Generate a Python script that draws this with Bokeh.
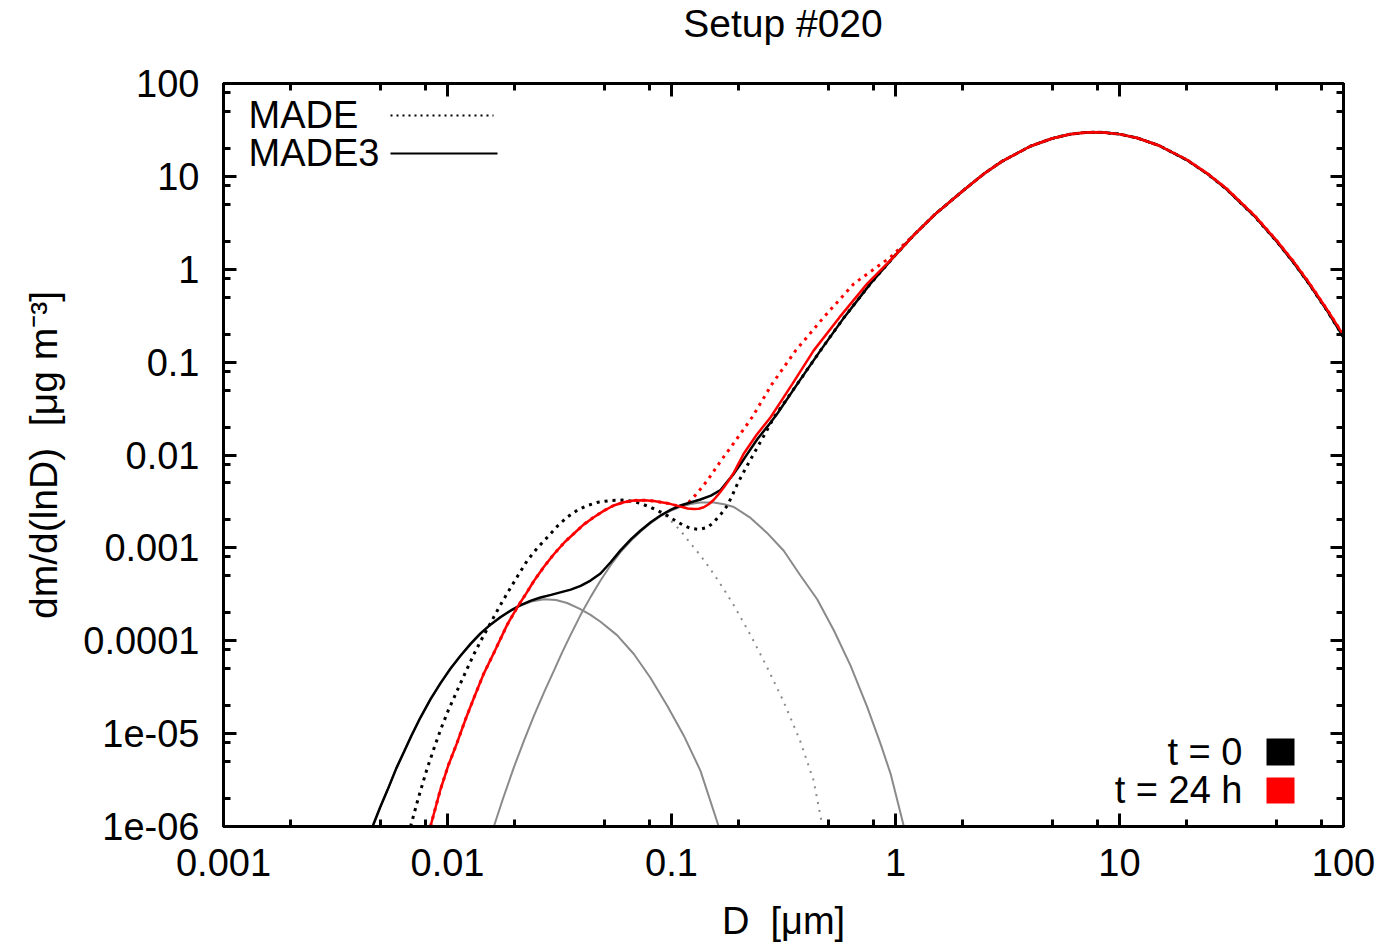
import numpy as np
from bokeh.plotting import figure
from bokeh.layouts import column
from bokeh.models import Range1d, FixedTicker, LogAxis, Label, Div
from bokeh.embed import file_html
from bokeh.resources import INLINE

# ---------------- data ----------------
# shared coarse-mode part (all four totals coincide here)
COARSE_X = [1.5, 2.0, 2.5, 3.0, 4.0, 5.0, 6.0, 7.0, 7.8, 8.5, 10.0, 12.0, 15.0, 20.0, 25.0,
            30.0, 40.0, 50.0, 60.0, 70.0, 85.0, 100.0]
COARSE_Y_T0 = [3.9, 7.0, 10.8, 14.6, 21.1, 25.6, 28.4, 29.6, 29.9, 29.7, 28.5, 25.9, 21.5, 15.0, 10.4,
               7.3, 3.74, 2.03, 1.17, 0.70, 0.35, 0.185]
COARSE_Y_T24 = [3.9, 7.0, 10.8, 14.6, 21.1, 25.6, 28.4, 29.6, 29.9, 29.7, 28.5, 25.9, 21.5, 15.1, 10.5,
                7.4, 3.80, 2.07, 1.20, 0.72, 0.36, 0.195]

# MADE3, t = 0 (black solid)
M3_T0_X = [0.00463, 0.0050, 0.00539, 0.0059, 0.00638, 0.0069, 0.00756, 0.0084, 0.00931, 0.0103,
           0.01143, 0.0127, 0.01403, 0.0156, 0.01726, 0.0192, 0.0212, 0.0236, 0.026, 0.029,
           0.0319, 0.0355, 0.0393, 0.0435, 0.0482, 0.0535, 0.0592, 0.066, 0.0728, 0.081,
           0.0893, 0.099, 0.1096, 0.1215, 0.1346, 0.15, 0.1656, 0.178, 0.190, 0.202, 0.214,
           0.2415, 0.27, 0.297, 0.366, 0.462, 0.591, 0.773, 0.98, 1.21]
M3_T0_Y = [1.0e-6, 1.6e-6, 2.45e-6, 4.2e-6, 6.3e-6, 9.5e-6, 1.48e-5, 2.35e-5, 3.5e-5, 5.0e-5,
           6.9e-5, 9.3e-5, 1.2e-4, 1.5e-4, 1.8e-4, 2.12e-4, 2.42e-4, 2.7e-4, 2.92e-4, 3.12e-4,
           3.32e-4, 3.55e-4, 3.9e-4, 4.45e-4, 5.3e-4, 7.0e-4, 9.4e-4, 1.24e-3, 1.54e-3, 1.9e-3,
           2.23e-3, 2.56e-3, 2.86e-3, 3.08e-3, 3.32e-3, 3.65e-3, 4.2e-3, 5.2e-3, 6.3e-3, 7.8e-3, 9.6e-3,
           0.0148, 0.0207, 0.028, 0.059, 0.133, 0.305, 0.70, 1.35, 2.35]

# MADE3, t = 24 h (red solid)
M3_T24_X = [0.00839, 0.0093, 0.0101, 0.0110, 0.0120, 0.0131, 0.0145, 0.0162, 0.0185, 0.0205,
            0.0224, 0.0243, 0.027, 0.0299, 0.0333, 0.0366, 0.0405, 0.045, 0.05, 0.0552,
            0.0612, 0.0679, 0.0755, 0.0834, 0.0957, 0.1096, 0.118, 0.126, 0.1325, 0.1393,
            0.1465, 0.1545, 0.1625, 0.1714, 0.18, 0.19, 0.21, 0.24, 0.277, 0.346, 0.431,
            0.563, 0.748, 0.98, 1.21]
M3_T24_Y = [1.0e-6, 2.5e-6, 4.6e-6, 7.8e-6, 1.4e-5, 2.4e-5, 4.4e-5, 7.6e-5, 1.5e-4, 2.3e-4,
            3.2e-4, 4.4e-4, 6.3e-4, 8.6e-4, 1.15e-3, 1.42e-3, 1.78e-3, 2.14e-3, 2.52e-3, 2.86e-3,
            3.1e-3, 3.24e-3, 3.26e-3, 3.2e-3, 3.03e-3, 2.78e-3, 2.66e-3, 2.62e-3, 2.64e-3, 2.74e-3,
            2.95e-3, 3.3e-3, 3.8e-3, 4.5e-3, 5.3e-3, 6.5e-3, 0.0103, 0.0165, 0.0255, 0.058, 0.133,
            0.305, 0.70, 1.35, 2.35]

# MADE, t = 0 (black dotted)
MADE_T0_X = [0.00684, 0.0074, 0.00811, 0.0087, 0.00931, 0.0101, 0.01104, 0.0121, 0.01313, 0.0143,
             0.01556, 0.0171, 0.0187, 0.0206, 0.0227, 0.0252, 0.0279, 0.031, 0.0342, 0.038,
             0.0421, 0.047, 0.0535, 0.06, 0.0656, 0.073, 0.0805, 0.088, 0.0957, 0.104, 0.1135,
             0.122, 0.133, 0.145, 0.1545, 0.166, 0.1776, 0.187, 0.197, 0.215, 0.235, 0.26, 0.287,
             0.366, 0.462, 0.591, 0.773, 0.98, 1.21]
MADE_T0_Y = [1.0e-6, 2.0e-6, 4.2e-6, 6.9e-6, 1.1e-5, 1.8e-5, 2.9e-5, 4.7e-5, 7.2e-5, 1.07e-4,
             1.55e-4, 2.35e-4, 3.4e-4, 5.0e-4, 7.3e-4, 1.0e-3, 1.3e-3, 1.72e-3, 2.14e-3, 2.55e-3,
             2.86e-3, 3.1e-3, 3.24e-3, 3.27e-3, 3.2e-3, 3.0e-3, 2.74e-3, 2.48e-3, 2.23e-3, 1.96e-3, 1.74e-3,
             1.62e-3, 1.58e-3, 1.66e-3, 1.89e-3, 2.3e-3, 2.86e-3, 3.7e-3, 4.9e-3, 7.3e-3, 0.0107, 0.0165, 0.0255,
             0.059, 0.133, 0.305, 0.70, 1.35, 2.35]

# MADE, t = 24 h (red dotted)
MADE_T24_X = [0.00839, 0.0093, 0.0101, 0.0110, 0.0120, 0.0131, 0.0145, 0.0162, 0.0185, 0.0205,
              0.0224, 0.0243, 0.027, 0.0299, 0.0333, 0.0366, 0.0405, 0.045, 0.05, 0.0552,
              0.0612, 0.0679, 0.0755, 0.0834, 0.0957, 0.1096, 0.1175, 0.128, 0.137, 0.146, 0.157,
              0.168, 0.19, 0.229, 0.281, 0.358, 0.479, 0.652, 0.95, 1.21]
MADE_T24_Y = [1.0e-6, 2.5e-6, 4.6e-6, 7.8e-6, 1.4e-5, 2.4e-5, 4.4e-5, 7.6e-5, 1.5e-4, 2.3e-4,
              3.2e-4, 4.4e-4, 6.3e-4, 8.6e-4, 1.15e-3, 1.42e-3, 1.78e-3, 2.14e-3, 2.52e-3, 2.86e-3,
              3.1e-3, 3.24e-3, 3.26e-3, 3.2e-3, 3.03e-3, 2.78e-3, 2.98e-3, 3.7e-3, 4.5e-3, 5.5e-3, 7.1e-3,
              9.0e-3, 0.0135, 0.0255, 0.058, 0.133, 0.305, 0.70, 1.35, 2.35]

# single modes, t = 0 (grey)
MODE_AIT_X = [0.00463, 0.0050, 0.00539, 0.0059, 0.00638, 0.0069, 0.00756, 0.0084, 0.00931, 0.0103,
              0.01143, 0.0127, 0.01403, 0.0156, 0.01726, 0.0192, 0.0212, 0.0237, 0.027, 0.0305,
              0.0342, 0.039, 0.0435, 0.0482, 0.0571, 0.0679, 0.0805, 0.0957, 0.1135, 0.1346, 0.1625]
MODE_AIT_Y = [1.0e-6, 1.6e-6, 2.45e-6, 4.2e-6, 6.3e-6, 9.5e-6, 1.48e-5, 2.35e-5, 3.5e-5, 5.0e-5,
              6.9e-5, 9.2e-5, 1.18e-4, 1.5e-4, 1.78e-4, 2.12e-4, 2.4e-4, 2.65e-4, 2.8e-4, 2.75e-4,
              2.55e-4, 2.2e-4, 1.9e-4, 1.6e-4, 1.15e-4, 7.2e-5, 4.0e-5, 2.0e-5, 9.5e-6, 4.0e-6, 1.0e-6]

MODE_ACC_X = [0.0161, 0.0177, 0.0198, 0.022, 0.0243, 0.027, 0.0299, 0.0325, 0.0354, 0.0393,
              0.0435, 0.0482, 0.0535, 0.0592, 0.066, 0.0728, 0.081, 0.0893, 0.099, 0.1096,
              0.1215, 0.1346, 0.1545, 0.1714, 0.190, 0.2254, 0.267, 0.317, 0.375, 0.447, 0.531,
              0.63, 0.748, 0.857, 0.951, 1.09]
MODE_ACC_Y = [1.0e-6, 2.0e-6, 4.36e-6, 8.5e-6, 1.55e-5, 2.8e-5, 4.8e-5, 7.5e-5, 1.15e-4, 1.9e-4,
              2.95e-4, 4.46e-4, 6.5e-4, 9.0e-4, 1.2e-3, 1.5e-3, 1.86e-3, 2.2e-3, 2.5e-3, 2.76e-3,
              2.97e-3, 3.08e-3, 3.08e-3, 2.95e-3, 2.75e-3, 2.1e-3, 1.45e-3, 9.3e-4, 5.1e-4, 2.8e-4, 1.29e-4,
              5.4e-5, 1.93e-5, 7.8e-6, 3.69e-6, 1.0e-6]

MODE_MADE_X = [0.00684, 0.0074, 0.00811, 0.0087, 0.00931, 0.0101, 0.01104, 0.0121, 0.01313, 0.0143,
               0.01556, 0.0171, 0.0187, 0.0206, 0.0227, 0.0252, 0.0279, 0.031, 0.0342, 0.038,
               0.0421, 0.047, 0.0535, 0.06, 0.0656, 0.073, 0.0805, 0.088, 0.0957, 0.1096, 0.1215,
               0.1346, 0.147, 0.160, 0.175, 0.190, 0.2254, 0.267, 0.317, 0.375, 0.431, 0.472]
MODE_MADE_Y = [1.0e-6, 2.0e-6, 4.2e-6, 6.9e-6, 1.1e-5, 1.8e-5, 2.9e-5, 4.7e-5, 7.2e-5, 1.07e-4,
               1.55e-4, 2.35e-4, 3.4e-4, 5.0e-4, 7.3e-4, 1.0e-3, 1.3e-3, 1.72e-3, 2.14e-3, 2.55e-3,
               2.86e-3, 3.1e-3, 3.24e-3, 3.27e-3, 3.2e-3, 3.0e-3, 2.7e-3, 2.42e-3, 2.14e-3, 1.54e-3, 1.12e-3,
               8.3e-4, 6.2e-4, 4.6e-4, 3.3e-4, 2.4e-4, 1.15e-4, 5.2e-5, 2.2e-5, 8.4e-6, 3.13e-6, 1.0e-6]

X_TICKS = [1e-3, 1e-2, 1e-1, 1.0, 10.0, 100.0]
X_TICK_LABELS = ["0.001", "0.01", "0.1", "1", "10", "100"]
Y_TICKS = [1e-6, 1e-5, 1e-4, 1e-3, 1e-2, 1e-1, 1.0, 10.0, 100.0]
Y_TICK_LABELS = ["1e-06", "1e-05", "0.0001", "0.001", "0.01", "0.1", "1", "10", "100"]
MINOR_MULT = [2, 5, 8]

TITLE = "Setup #020"
X_LABEL = "D\u00a0 [\u03bcm]"
Y_LABEL = "dm/d(lnD)\u00a0 [\u03bcg m\u207b\u00b3]"
LEGEND_MODEL = ["MADE", "MADE3"]
LEGEND_TIME = ["t = 0", "t = 24 h"]

# ---------------- figure ----------------
FONT = "Liberation Sans"
TITLE_H = 47
L, R, T, B = 223, 46, 83 - TITLE_H, 118
FW, FH = 1120, 743

p = figure(x_axis_type="log", y_axis_type="log",
           x_range=Range1d(1e-3, 100), y_range=Range1d(1e-6, 100),
           frame_width=FW, frame_height=FH,
           min_border_left=L, min_border_right=R, min_border_top=T, min_border_bottom=B,
           output_backend="svg", toolbar_location=None)
p.xgrid.visible = False
p.ygrid.visible = False
p.outline_line_color = "black"
p.outline_line_width = 3
p.background_fill_color = "white"
p.border_fill_color = "white"

title_div = Div(text=TITLE, width=FW, height=TITLE_H, margin=(0, 0, 0, L),
                styles={"font-family": FONT, "font-size": "39px", "line-height": "%dpx" % TITLE_H,
                        "text-align": "center", "color": "black", "width": "%dpx" % FW})


def minor_list(ticks):
    out = []
    for t in ticks[:-1]:
        out += [t * m for m in MINOR_MULT]
    return out


def style(ax, ticks, labels, show):
    ax.ticker = FixedTicker(ticks=ticks, minor_ticks=minor_list(ticks))
    ax.axis_line_color = "black"
    ax.axis_line_width = 3
    ax.major_tick_in = 13
    ax.major_tick_out = 0
    ax.minor_tick_in = 7
    ax.minor_tick_out = 0
    ax.major_tick_line_width = 3
    ax.minor_tick_line_width = 3
    ax.major_tick_line_color = "black"
    ax.minor_tick_line_color = "black"
    ax.major_label_overrides = {t: s for t, s in zip(ticks, labels)}
    if show:
        ax.major_label_text_font = FONT
        ax.major_label_text_font_size = "38px"
        ax.major_label_text_color = "black"
        ax.axis_label_text_font = FONT
        ax.axis_label_text_font_style = "normal"
        ax.axis_label_text_color = "black"
    else:
        ax.major_label_text_font_size = "1px"
        ax.major_label_text_alpha = 0.0
        ax.major_label_standoff = 0


xa = p.xaxis[0]
ya = p.yaxis[0]
style(xa, X_TICKS, X_TICK_LABELS, True)
style(ya, Y_TICKS, Y_TICK_LABELS, True)
xa.major_label_standoff = 22
ya.major_label_standoff = 24
xa.axis_label = X_LABEL
xa.axis_label_text_font_size = "38px"
xa.axis_label_standoff = 21
ya.axis_label = Y_LABEL
ya.axis_label_text_font_size = "39px"
ya.axis_label_standoff = 15

top_ax = LogAxis()
right_ax = LogAxis()
style(top_ax, X_TICKS, X_TICK_LABELS, False)
style(right_ax, Y_TICKS, Y_TICK_LABELS, False)
p.add_layout(top_ax, "above")
p.add_layout(right_ax, "right")

GREY = "#8a8a8a"
# single modes
p.line(MODE_AIT_X, MODE_AIT_Y, line_color=GREY, line_width=2)
p.line(MODE_ACC_X, MODE_ACC_Y, line_color=GREY, line_width=2)
p.line(MODE_MADE_X, MODE_MADE_Y, line_color=GREY, line_width=2, line_dash="2 6")
# totals
p.line(MADE_T0_X + COARSE_X, MADE_T0_Y + COARSE_Y_T0, line_color="black", line_width=3, line_dash="3 5")
p.line(MADE_T24_X + COARSE_X, MADE_T24_Y + COARSE_Y_T24, line_color="red", line_width=3, line_dash="3 5")
p.line(M3_T0_X + COARSE_X, M3_T0_Y + COARSE_Y_T0, line_color="black", line_width=2.5)
p.line(M3_T24_X + COARSE_X, M3_T24_Y + COARSE_Y_T24, line_color="red", line_width=2.5)


# ---------------- key (gnuplot style) ----------------
def dx(cx):
    return 10 ** (-3 + 5 * (cx - L) / FW)


def dy(cy):
    return 10 ** (-6 + 8 * (T + FH - cy) / FH)


p.line([dx(390), dx(493)], [dy(115 - TITLE_H), dy(115 - TITLE_H)], line_color="black", line_width=2, line_dash="2 4")
p.line([dx(390), dx(497)], [dy(153 - TITLE_H), dy(153 - TITLE_H)], line_color="black", line_width=2)
p.quad(left=[dx(1266)], right=[dx(1294)], top=[dy(738 - TITLE_H)], bottom=[dy(765 - TITLE_H)],
       fill_color="black", line_color=None)
p.quad(left=[dx(1266)], right=[dx(1294)], top=[dy(777 - TITLE_H)], bottom=[dy(803 - TITLE_H)],
       fill_color="red", line_color=None)


def lab(x, y, text, size="38px", align="left"):
    p.add_layout(Label(x=x, y=y - TITLE_H, x_units="canvas", y_units="canvas", text=text,
                       text_font=FONT, text_font_size=size, text_align=align,
                       text_baseline="alphabetic", text_color="black"))


lab(248, 114, LEGEND_MODEL[0])
lab(248, 152, LEGEND_MODEL[1])
lab(1242, 751, LEGEND_TIME[0], align="right")
lab(1242, 789, LEGEND_TIME[1], align="right")

layout = column(title_div, p, spacing=0)
open("out.html", "w").write(file_html(layout, INLINE))
